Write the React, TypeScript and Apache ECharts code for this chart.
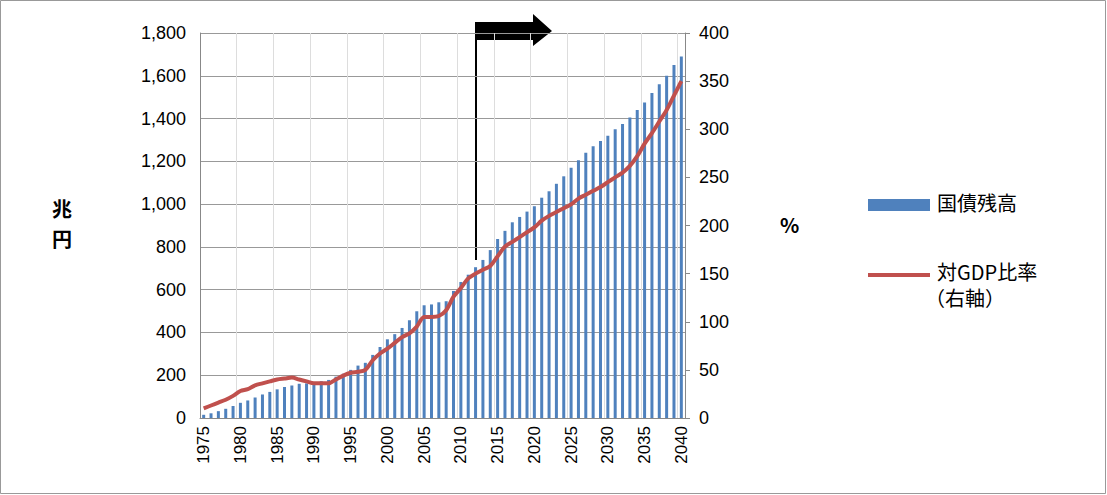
import React, { useEffect, useRef } from 'react';
import * as echarts from 'echarts';

const years: string[] = [];
for (let y = 1975; y <= 2040; y++) years.push(String(y));

// 国債残高（兆円）
const debt = [
  15, 22, 32, 43, 56, 71, 82, 96, 110, 122,
  134, 145, 152, 160, 162, 166, 172, 178, 193, 207,
  225, 245, 258, 295, 332, 368, 392, 421, 457, 499,
  527, 531, 541, 546, 594, 636, 670, 705, 739, 785,
  837, 875, 915, 940, 965, 990, 1030, 1060, 1095, 1130,
  1170, 1205, 1240, 1270, 1295, 1320, 1350, 1375, 1405, 1440,
  1475, 1520, 1560, 1600, 1650, 1690,
];

// 対GDP比率（%）
const ratio = [
  10, 13, 16, 19, 23, 28, 30, 34, 36, 38,
  40, 41, 42, 40, 38, 36, 36, 36, 40, 44,
  47, 48, 50, 60, 67, 72, 78, 84, 88, 95,
  105, 105, 106, 112, 126, 135, 145, 150, 154, 158,
  168, 178, 183, 188, 193, 198, 205, 210, 214, 218,
  222, 228, 232, 236, 240, 245, 250, 255, 262, 272,
  285, 296, 308, 320, 335, 350,
];

const App: React.FC = () => {
  const chartRef = useRef<HTMLDivElement>(null);

  useEffect(() => {
    if (!chartRef.current) return;
    const chart = echarts.init(chartRef.current, undefined, { renderer: 'svg' });
    const font = '"Noto Sans CJK JP", "Liberation Sans", sans-serif';
    chart.setOption({
      animation: false,
      textStyle: { fontFamily: font },
      grid: { left: 200, right: 422, top: 33, bottom: 77 },
      xAxis: {
        type: 'category',
        data: years,
        axisLine: { lineStyle: { color: '#888' } },
        axisTick: { interval: 0, lineStyle: { color: '#888' } },
        axisLabel: {
          interval: 4,
          rotate: 90,
          color: '#000',
          fontSize: 17,
          fontFamily: 'Liberation Sans, sans-serif',
        },
        splitLine: { show: true, interval: 4, lineStyle: { color: '#ddd' } },
      },
      yAxis: [
        {
          type: 'value',
          min: 0,
          max: 1800,
          interval: 200,
          axisLabel: {
            color: '#000',
            fontSize: 18,
            margin: 14,
            fontFamily: 'Liberation Sans, sans-serif',
            formatter: (v: number) => v.toLocaleString('en-US'),
          },
          axisLine: { show: true, lineStyle: { color: '#888' } },
          splitLine: { lineStyle: { color: '#999' } },
        },
        {
          type: 'value',
          min: 0,
          max: 400,
          interval: 50,
          axisLabel: { color: '#000', fontSize: 18, margin: 14, fontFamily: 'Liberation Sans, sans-serif' },
          axisLine: { show: true, lineStyle: { color: '#888' } },
          axisTick: { show: true, lineStyle: { color: '#888' } },
          splitLine: { show: false },
        },
      ],
      series: [
        {
          name: '国債残高',
          type: 'bar',
          data: debt,
          barWidth: 3,
          itemStyle: { color: '#4f81bd' },
        },
        {
          name: '対GDP比率（右軸）',
          type: 'line',
          yAxisIndex: 1,
          data: ratio,
          symbol: 'none',
          smooth: 0.3,
          lineStyle: { color: '#c0504d', width: 4 },
        },
      ],
      graphic: [
        { type: 'rect', shape: { x: 0.5, y: 0.5, width: 1105, height: 493 }, style: { fill: 'none', stroke: '#999', lineWidth: 1 } },
        { type: 'text', x: 52, y: 198, style: { text: '兆', font: `bold 20px ${font}`, fill: '#000' } },
        { type: 'text', x: 52, y: 228, style: { text: '円', font: `bold 20px ${font}`, fill: '#000' } },
        { type: 'text', x: 780, y: 214, style: { text: '%', font: `bold 20px ${font}`, fill: '#000' } },
        { type: 'line', shape: { x1: 476, y1: 22, x2: 476, y2: 260 }, style: { stroke: '#000', lineWidth: 2 } },
        { type: 'polygon', shape: { points: [[476, 22], [533, 22], [533, 14], [552, 31], [533, 46], [533, 40], [476, 40]] }, style: { fill: '#000' } },
        { type: 'rect', shape: { x: 868, y: 199, width: 62, height: 12 }, style: { fill: '#4f81bd' } },
        { type: 'text', x: 937, y: 192, style: { text: '国債残高', font: `20px ${font}`, fill: '#000' } },
        { type: 'line', shape: { x1: 868, y1: 275, x2: 930, y2: 275 }, style: { stroke: '#c0504d', lineWidth: 4 } },
        { type: 'text', x: 937, y: 261, style: { text: '対GDP比率', font: `20px ${font}`, fill: '#000' } },
        { type: 'text', x: 925, y: 287, style: { text: '（右軸）', font: `20px ${font}`, fill: '#000' } },
      ],
    });
    return () => chart.dispose();
  }, []);

  return (
    <div
      ref={chartRef}
      style={{ position: 'absolute', left: 0, top: 0, width: '1107px', height: '495px', background: '#fff' }}
    />
  );
};

export default App;
